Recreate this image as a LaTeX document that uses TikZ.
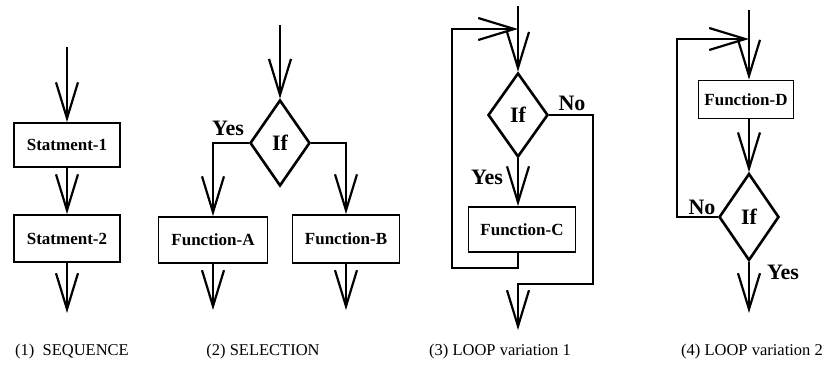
\documentclass[tikz,border=0pt]{standalone}
\usepackage{fontspec}
\setmainfont{Liberation Serif}
\usetikzlibrary{arrows.meta,shapes.geometric}
\begin{document}
\begin{tikzpicture}[x=1pt,y=-1pt,
  arr/.style={line width=1.8pt,-{Straight Barb[length=36pt,width=22pt,line width=2.2pt]}},
  box/.style={draw,line width=1.8pt,rectangle,inner sep=0pt,font=\fontsize{17}{19}\bfseries\selectfont},
  dia/.style={draw,line width=2.6pt,diamond,inner sep=0pt,minimum width=60pt,font=\fontsize{22}{24}\bfseries\selectfont},
  yn/.style={inner sep=0pt,font=\fontsize{22}{24}\bfseries\selectfont},
  lab/.style={inner sep=0pt,font=\fontsize{16.5}{19}\selectfont}]
\useasboundingbox (0,0) rectangle (829,366);
\fill[white] (0,0) rectangle (829,366);

% ---- (1) SEQUENCE
\node[box,minimum width=106pt,minimum height=44pt] (s1) at (67,145) {Statment-1};
\node[box,minimum width=106pt,minimum height=47pt] (s2) at (67,238.5) {Statment-2};
\coordinate (in1) at (67,47);
\coordinate (out1) at (67,313);
\draw[arr] (in1) -- (s1.north);
\draw[arr] (s1) -- (s2);
\draw[arr] (s2) -- (out1);
\node[lab] (l1) at (72,352) {(1)\ \ SEQUENCE};

% ---- (2) SELECTION
\node[dia,minimum height=86pt] (d2) at (280,143) {If};
\node[box,minimum width=109pt,minimum height=46pt] (fa) at (213,240) {Function-A};
\node[box,minimum width=107pt,minimum height=48pt] (fb) at (346,239) {Function-B};
\coordinate (in2) at (280,25);
\draw[arr] (in2) -- (d2.north);
\draw[arr] (d2.west) -| (fa.north);
\draw[arr] (d2.east) -| (fb.north);
\node[yn] (y2) at (228,128) {Yes};
\coordinate (outa) at (213,310);
\coordinate (outb) at (346,310);
\draw[arr] (fa) -- (outa);
\draw[arr] (fb) -- (outb);
\node[lab] (l2) at (263,352) {(2) SELECTION};

% ---- (3) LOOP variation 1
\node[dia,minimum height=84pt] (d3) at (518,115) {If};
\node[box,minimum width=107pt,minimum height=45pt] (fc) at (522,229.5) {Function-C};
\coordinate (in3) at (518,6);
\coordinate (c3a) at (452,268);
\coordinate (c3b) at (452,29);
\coordinate (c3c) at (593,284);
\coordinate (out3) at (518,330);
\draw[arr] (in3) -- (d3.north);
\draw[arr] (fc.south -| d3.south) |- (c3a) -- (c3b) -- (c3b -| in3);
\draw[arr] (d3.south) -- (d3.south |- fc.north);
\draw[arr] (d3.east) -| (c3c) -| (out3);
\node[yn] (y3) at (487,177) {Yes};
\node[yn] (n3) at (572,103) {No};
\node[lab] (l3) at (500,352) {(3) LOOP variation 1};

% ---- (4) LOOP variation 2
\node[box,minimum width=95pt,minimum height=38pt] (fd) at (746,99.5) {Function-D};
\node[dia,minimum height=87pt] (d4) at (749,217) {If};
\coordinate (in4) at (749,10);
\coordinate (c4b) at (677,39);
\coordinate (out4) at (749,313);
\draw[arr] (in4) -- (in4 |- fd.north);
\draw[arr] (fd.south -| d4.north) -- (d4.north);
\draw[arr] (d4.west) -| (c4b) -- (c4b -| in4);
\draw[arr] (d4.south) -- (out4);
\node[yn] (n4) at (702,207) {No};
\node[yn] (y4) at (783,272) {Yes};
\node[lab] (l4) at (752,352) {(4) LOOP variation 2};
\end{tikzpicture}
\end{document}
